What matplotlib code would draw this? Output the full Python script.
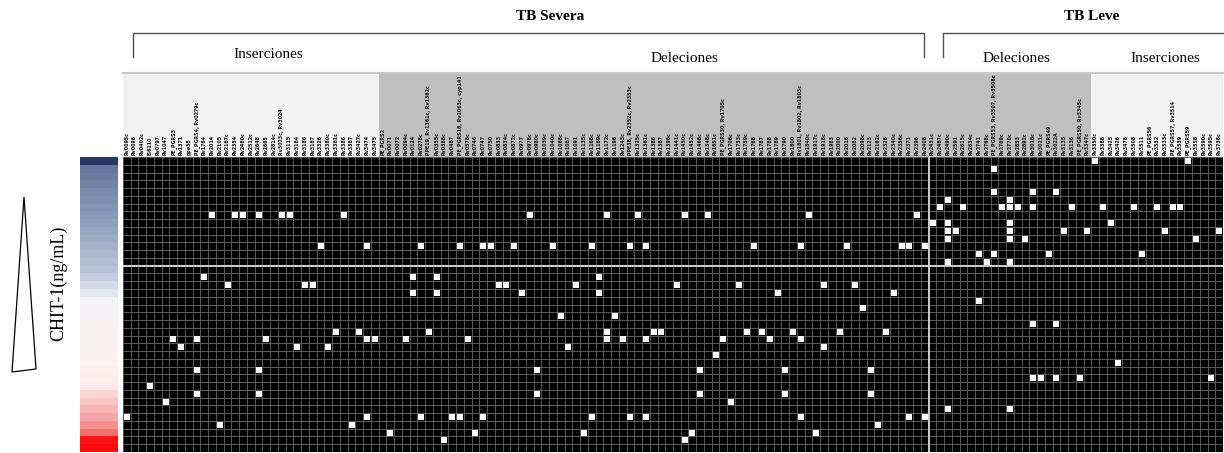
import numpy as np
import matplotlib.pyplot as plt
from matplotlib.colors import LinearSegmentedColormap
from matplotlib.patches import Polygon

# column (variant) labels, grouped as in the figure
ins_severa = ["Rv0095c", "Rv0096", "Rv0402c", "IS6110", "Rv0797", "Rv1047", "PE_PGRS3",
              "Rv1371", "ppe38", "PE_PGRS4, Rv0279c", "Rv1764", "Rv2014", "Rv2105",
              "Rv2167c", "Rv2354", "Rv2480c", "Rv2512c", "Rv2648", "Rv2665", "Rv2814c",
              "Rv3023c, Rv3024", "Rv3115", "Rv3184", "Rv3186", "Rv3187", "Rv3326",
              "Rv3380c", "Rv3381c", "Rv3386", "Rv3387", "Rv3427c", "Rv3474", "Rv3475"]
del_severa = ["PE_PGRS2", "Rv0071", "Rv0072", "Rv0094c", "Rv0124", "Rv0278c",
              "PPE19, Rv1361c, Rv1362c", "Rv0355c", "Rv0388c", "Rv0487",
              "PE_PGRS18, Rv1063c, cyp141", "Rv0578c", "Rv0746", "Rv0747", "Rv0750",
              "Rv0833", "Rv0834c", "Rv0872c", "Rv0977", "Rv0978c", "Rv0980c", "Rv1039c",
              "Rv1040c", "Rv1068c", "Rv1087", "Rv1091", "Rv1135c", "Rv1168c", "Rv1169c",
              "Rv1172c", "Rv1196", "Rv1243c", "PPE38, Rv2352c, Rv2353c", "Rv1325c",
              "Rv1361c", "Rv1386", "Rv1387", "Rv1396c", "Rv1441c", "Rv1450c", "Rv1452c",
              "Rv1468c", "Rv1548c", "Rv1651c", "PE_PGRS30, Rv1705c", "Rv1706c", "Rv1753c",
              "Rv1759c", "Rv1768", "Rv1787", "Rv1788", "Rv1789", "Rv1790", "Rv1800",
              "Rv1801, Rv1802, Rv1803c", "Rv1840c", "Rv1917c", "Rv1918c", "Rv1983",
              "Rv2000", "Rv2016", "Rv2082", "Rv2098c", "Rv2123", "Rv2162c", "Rv2328",
              "Rv2340c", "Rv2356c", "Rv2371", "Rv2396", "Rv2408"]
del_leve = ["Rv2431c", "Rv2487c", "Rv2490c", "Rv2591", "Rv2615c", "Rv2634c", "Rv2741",
            "Rv2768c", "PE_PGRS53, Rv3507, Rv3508c", "Rv2769c", "Rv2770c", "Rv2853",
            "Rv2892c", "Rv3018c", "Rv3021c", "PE_PGRS49", "Rv3022A", "Rv3135", "Rv3136",
            "PE_PGRS50, Rv3345c", "Rv3347c"]
ins_leve = ["Rv3350c", "Rv3388", "Rv3425", "Rv3426", "Rv3478", "Rv3508", "Rv3511",
            "PE_PGRS56", "Rv3532", "Rv3533c", "PE_PGRS57, Rv3514", "Rv3539", "PE_PGRS59",
            "Rv3558", "Rv3590c", "Rv3595c", "Rv3738c"]

# CHIT-1 level of each sample (row), top = highest
chit1 = [98, 88, 86, 84, 82, 80, 78, 76, 74, 72, 70, 68, 66, 64, 62, 59, 56, 53,
         48, 47, 46, 45, 44, 43, 42, 41, 40, 39, 38, 37, 30, 27, 24, 21, 18, 15, 4, 2]

# columns with the variant present, one list per sample (row)
hits_per_sample = [
    [125, 137], [112], [], [], [112, 117, 120], [106, 114],
    [105, 108, 113, 114, 115, 117, 122, 126, 130, 133, 135, 136],
    [11, 14, 15, 17, 20, 21, 28, 52, 62, 66, 72, 75, 88, 102],
    [104, 106, 114, 127],
    [106, 107, 114, 121, 124, 134, 141],
    [106, 114, 116, 138],
    [25, 31, 38, 43, 46, 47, 50, 55, 60, 65, 67, 81, 87, 93, 100, 101, 103],
    [110, 112, 119, 131],
    [106, 111, 114],
    [],
    [10, 37, 40, 61],
    [13, 23, 24, 48, 49, 58, 71, 79, 90, 94],
    [37, 40, 51, 61, 84, 99],
    [110], [95], [56, 63], [117, 120],
    [27, 30, 39, 62, 68, 69, 80, 82, 86, 92, 98],
    [6, 9, 18, 31, 32, 36, 44, 62, 64, 67, 77, 83, 87],
    [7, 22, 26, 57, 90],
    [76], [128],
    [9, 17, 53, 74, 85, 96],
    [117, 118, 120, 123, 140],
    [3],
    [9, 17, 53, 74, 85, 96],
    [5, 78],
    [106, 114],
    [0, 31, 38, 42, 43, 46, 60, 65, 67, 87, 101, 103],
    [12, 29, 97],
    [34, 45, 59, 73, 89],
    [41, 72],
    [],
]

labels = ins_severa + del_severa + del_leve + ins_leve
n_cols = len(labels)
n_rows = len(chit1)
n_ins_sev = len(ins_severa)
n_sev = len(ins_severa) + len(del_severa)
n_del_end = n_sev + len(del_leve)

W, H = 1224, 453
fig = plt.figure(figsize=(W / 100, H / 100), dpi=100)


def box(x0, y0, x1, y1):
    return [x0 / W, 1 - y1 / H, (x1 - x0) / W, (y1 - y0) / H]


# main binary matrix
ax = fig.add_axes(box(123, 157, 1223, 452))
ax.set_facecolor("black")
ax.set_xlim(0, n_cols)
ax.set_ylim(n_rows, 0)
ax.set_xticks(np.arange(n_cols + 1), minor=True)
ax.set_yticks(np.arange(n_rows + 1), minor=True)
ax.set_xticks([])
ax.set_yticks([])
ax.grid(which="minor", color="#686868", lw=0.6)
ax.tick_params(which="both", length=0)
for s in ax.spines.values():
    s.set_visible(False)

rr, cc = [], []
for r, cols in enumerate(hits_per_sample):
    for c in cols:
        rr.append(r)
        cc.append(c)
ax.scatter(np.array(cc) + 0.5, np.array(rr) + 0.5, marker="s", s=17, c="white",
           linewidths=0, zorder=3)
ax.axhline(14, color="#d0d0d0", lw=1.4, zorder=4)
ax.axvline(n_sev, color="#d0d0d0", lw=1.4, zorder=4)

# label strip above the matrix
lab = fig.add_axes(box(123, 73, 1223, 157))
lab.set_xlim(0, n_cols)
lab.set_ylim(0, 1)
lab.axvspan(0, n_ins_sev, color="#f2f2f2", lw=0)
lab.axvspan(n_ins_sev, n_del_end, color="#bfbfbf", lw=0)
lab.axvspan(n_del_end, n_cols, color="#f2f2f2", lw=0)
lab.set_xticks([])
lab.set_yticks([])
for k, s in lab.spines.items():
    s.set_visible(k == "top")
    s.set_color("#c8c8c8")
    s.set_linewidth(1.5)
for i, t in enumerate(labels):
    lab.text(i + 0.5, 0.02, t, rotation=90, ha="center", va="bottom",
             fontsize=3.4, fontweight="bold", color="#111111")

# CHIT-1 colour stripe
cmap = LinearSegmentedColormap.from_list("chit", [
    (0.0, "#ff0000"), (0.08, "#f42a2a"), (0.2, "#f5a3a3"), (0.3, "#fbd6d6"),
    (0.4, "#fdf2f2"), (0.5, "#f1f3f7"), (0.6, "#c2cadb"), (0.75, "#8f9dbb"),
    (0.9, "#62739c"), (1.0, "#1c2c58")])
cb = fig.add_axes(box(80, 157, 118, 452))
cb.imshow(np.array(chit1)[:, None], aspect="auto", cmap=cmap, vmin=0, vmax=100,
          interpolation="nearest")
cb.axis("off")

# overlay for annotations in pixel coordinates
ov = fig.add_axes([0, 0, 1, 1], zorder=-1)
ov.set_xlim(0, W)
ov.set_ylim(H, 0)
ov.axis("off")

ov.add_patch(Polygon([[24, 197], [12, 372], [36, 369]], closed=True,
                     facecolor="white", edgecolor="black", lw=0.9))
ov.text(59, 283, "CHIT-1(ng/mL)", rotation=90, ha="center", va="center",
        fontsize=13, family="Liberation Serif")

ov.text(550, 17, "TB Severa", ha="center", va="center", fontsize=11,
        fontweight="bold", family="Liberation Serif")
ov.text(1092, 17, "TB Leve", ha="center", va="center", fontsize=11,
        fontweight="bold", family="Liberation Serif")
ov.plot([133, 133, 924, 924], [57, 33, 33, 57], color="#505050", lw=1)
ov.plot([943, 943, 1224], [57, 33, 33], color="#505050", lw=1)

for x, y, t in [(268, 55, "Inserciones"), (684, 58, "Deleciones"),
                (1016, 58, "Deleciones"), (1165, 58, "Inserciones")]:
    ov.text(x, y, t, ha="center", va="center", fontsize=11, family="Liberation Serif")

fig.savefig("out.png", dpi=100)
